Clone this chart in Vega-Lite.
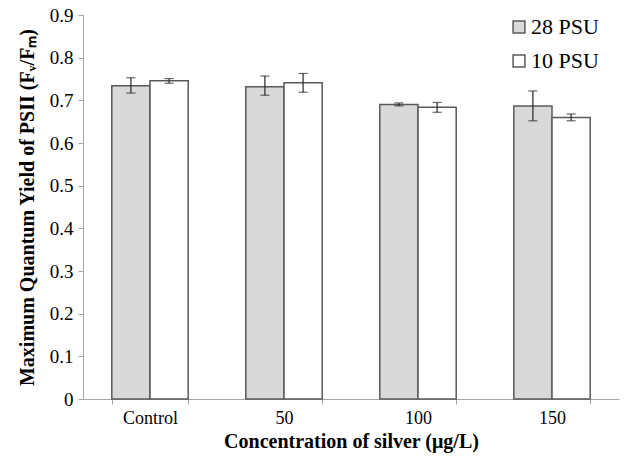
{
  "$schema": "https://vega.github.io/schema/vega-lite/v6.json",
  "width": 536,
  "height": 384,
  "autosize": {"type": "none"},
  "padding": {"left": 83, "top": 15, "right": 21, "bottom": 57},
  "background": "white",
  "config": {
    "view": {"stroke": null},
    "font": "Liberation Serif"
  },
  "data": {
    "values": [
      {"conc": "Control", "salinity": "28 PSU", "mean": 0.734, "lo": 0.717, "hi": 0.753},
      {"conc": "Control", "salinity": "10 PSU", "mean": 0.746, "lo": 0.740, "hi": 0.751},
      {"conc": "50", "salinity": "28 PSU", "mean": 0.732, "lo": 0.712, "hi": 0.757},
      {"conc": "50", "salinity": "10 PSU", "mean": 0.741, "lo": 0.719, "hi": 0.763},
      {"conc": "100", "salinity": "28 PSU", "mean": 0.690, "lo": 0.687, "hi": 0.694},
      {"conc": "100", "salinity": "10 PSU", "mean": 0.684, "lo": 0.672, "hi": 0.695},
      {"conc": "150", "salinity": "28 PSU", "mean": 0.687, "lo": 0.652, "hi": 0.722},
      {"conc": "150", "salinity": "10 PSU", "mean": 0.660, "lo": 0.652, "hi": 0.668}
    ]
  },
  "encoding": {
    "x": {
      "field": "conc",
      "type": "nominal",
      "sort": ["Control", "50", "100", "150"],
      "scale": {"paddingInner": 0.43, "paddingOuter": 0.215},
      "axis": {
        "title": "Concentration of silver (μg/L)",
        "titleFont": "Liberation Serif",
        "titleFontSize": 20,
        "titleFontWeight": "bold",
        "titleColor": "black",
        "titlePadding": 4,
        "labelFont": "Liberation Serif",
        "labelFontSize": 18,
        "labelColor": "black",
        "labelAngle": 0,
        "labelPadding": 5,
        "domainColor": "#a6a6a6",
        "tickColor": "#a6a6a6",
        "tickBand": "extent",
        "tickSize": 5
      }
    },
    "xOffset": {
      "field": "salinity",
      "type": "nominal",
      "sort": ["28 PSU", "10 PSU"],
      "scale": {"paddingInner": 0, "paddingOuter": 0}
    }
  },
  "layer": [
    {
      "mark": {"type": "bar", "stroke": "#595959", "strokeWidth": 1.5},
      "encoding": {
        "y": {
          "field": "mean",
          "type": "quantitative",
          "scale": {"domain": [0, 0.9], "nice": false},
          "axis": {
            "title": "Maximum Quantum Yield of PSII (Fᵥ/Fₘ)",
            "titleFont": "Liberation Serif",
            "titleFontSize": 20,
            "titleFontWeight": "bold",
            "titleColor": "black",
            "titlePadding": 12,
            "labelFont": "Liberation Serif",
            "labelFontSize": 19,
            "labelColor": "black",
            "labelPadding": 5,
            "values": [0, 0.1, 0.2, 0.3, 0.4, 0.5, 0.6, 0.7, 0.8, 0.9],
            "format": "~g",
            "grid": false,
            "domainColor": "#a6a6a6",
            "tickColor": "#a6a6a6",
            "tickSize": 5
          }
        },
        "fill": {
          "field": "salinity",
          "type": "nominal",
          "sort": ["28 PSU", "10 PSU"],
          "scale": {"domain": ["28 PSU", "10 PSU"], "range": ["#d9d9d9", "#ffffff"]},
          "legend": {
            "title": null,
            "orient": "none",
            "legendX": 425,
            "legendY": 1,
            "symbolType": "square",
            "symbolSize": 140,
            "symbolStrokeColor": "#595959",
            "symbolStrokeWidth": 1.5,
            "labelFont": "Liberation Serif",
            "labelFontSize": 22,
            "labelColor": "black",
            "labelOffset": 1,
            "rowPadding": 12
          }
        }
      }
    },
    {
      "mark": {"type": "rule", "color": "#262626", "strokeWidth": 1.2},
      "encoding": {
        "y": {"field": "lo", "type": "quantitative"},
        "y2": {"field": "hi"}
      }
    },
    {
      "mark": {"type": "tick", "color": "#262626", "size": 9, "thickness": 1.2, "orient": "horizontal"},
      "encoding": {
        "y": {"field": "lo", "type": "quantitative"}
      }
    },
    {
      "mark": {"type": "tick", "color": "#262626", "size": 9, "thickness": 1.2, "orient": "horizontal"},
      "encoding": {
        "y": {"field": "hi", "type": "quantitative"}
      }
    }
  ]
}
